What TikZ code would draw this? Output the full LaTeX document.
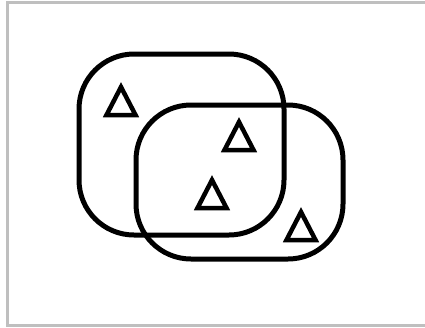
\documentclass[tikz,border=0pt]{standalone}
\begin{document}
\begin{tikzpicture}[x=1pt,y=-1pt,
  frame/.style={draw=black!25,line width=3pt},
  setbox/.style={draw=black,line width=5pt,rounded corners=55pt},
  tri/.style={draw=black,line width=4.5pt,miter limit=10,line join=miter}]
\useasboundingbox (0,0) rectangle (425,327);
\begin{scope}
\clip (0,0) rectangle (425,327);
\draw[frame] (7.5,2.5) rectangle (430,325.5);
\end{scope}
\draw[setbox] (79,54) rectangle (284,235);
\draw[setbox] (136,105) rectangle (343,259);
\foreach \cx/\by in {121/115, 239/150, 212/208, 301/240}{
  \draw[tri] (\cx-14.5,\by) -- (\cx+14.5,\by) -- (\cx,\by-28) -- cycle;
}
\end{tikzpicture}
\end{document}
